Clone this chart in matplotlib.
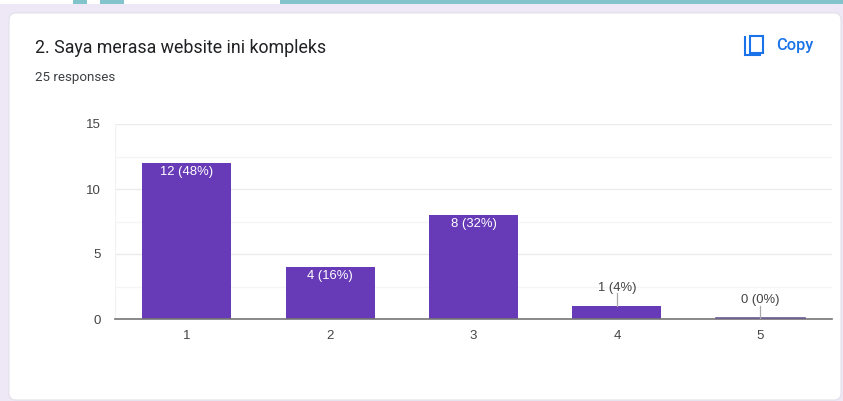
import matplotlib
matplotlib.use("Agg")
import matplotlib.pyplot as plt
from matplotlib.patches import FancyBboxPatch, Rectangle

categories = ["1", "2", "3", "4", "5"]
counts = [12, 4, 8, 1, 0]
labels = ["12 (48%)", "4 (16%)", "8 (32%)", "1 (4%)", "0 (0%)"]
y_ticks = [0, 5, 10, 15]
y_minor = [2.5, 7.5, 12.5]
title = "2. Saya merasa website ini kompleks"
subtitle = "25 responses"

W, H = 843, 401
fig = plt.figure(figsize=(W / 100, H / 100), dpi=100, facecolor="#ede7f6")

# page background, pixel coordinates
bg = fig.add_axes([0, 0, 1, 1])
bg.set_xlim(0, W)
bg.set_ylim(H, 0)
bg.axis("off")
bg.add_patch(Rectangle((0, 0), W, 4, fc="white", ec="none"))
bg.add_patch(Rectangle((280, 0), W - 280, 4, fc="#83c3cc", ec="none"))
bg.add_patch(Rectangle((73, 0), 14, 4, fc="#83c3cc", ec="none"))
bg.add_patch(Rectangle((100, 0), 24, 4, fc="#83c3cc", ec="none"))
bg.add_patch(FancyBboxPatch((9, 13), W - 11, H - 14, boxstyle="round,pad=0,rounding_size=7",
                            fc="white", ec="#e3e1e8", lw=0.8))
bg.text(35, 48, title, fontsize=12.8, family="Roboto", color="#202124", va="center")
bg.text(35, 78, subtitle, fontsize=9.6, family="Roboto", color="#3c4043", va="center")
bg.text(776, 45.5, "Copy", fontsize=11.8, family="Roboto", weight="medium", color="#1a73e8", va="center")
# copy icon
bg.add_patch(Rectangle((749.5, 35.5), 13, 17, fc="none", ec="#1a73e8", lw=1.5))
bg.plot([745, 745, 760], [37, 55, 55], color="#1a73e8", lw=1.5, solid_joinstyle="miter")

ax = fig.add_axes([115 / W, 1 - 319 / H, (832 - 115) / W, (319 - 124) / H])
ax.patch.set_alpha(0)
x = list(range(1, len(categories) + 1))
ax.set_xlim(0.5, 5.5)
ax.set_ylim(0, 15)

for s in ["top", "right", "left"]:
    ax.spines[s].set_visible(False)
ax.spines["bottom"].set_color("#757575")
ax.spines["bottom"].set_linewidth(1.2)
ax.spines["bottom"].set_zorder(5)

for v in y_ticks[1:]:
    ax.axhline(v, color="#ebebeb", lw=1, zorder=0)
for v in y_minor:
    ax.axhline(v, color="#f5f5f5", lw=1, zorder=0)
ax.plot([0.5, 0.5], [0, 15], color="#f3f3f3", lw=1, zorder=0)

ax.bar(x, counts, width=0.62, color="#673ab7", zorder=3)
ax.plot([4.5 + 0.19, 5.31], [0.04, 0.04], color="#6a5a94", lw=1.2, zorder=6)

ax.set_xticks(x)
ax.set_xticklabels(categories)
ax.set_yticks(y_ticks)
ax.tick_params(axis="both", length=0, labelsize=9.5, labelcolor="#444444", labelfontfamily="Liberation Sans")
ax.tick_params(axis="x", pad=8)
ax.tick_params(axis="y", pad=10)

for xi, c, lab in zip(x, counts, labels):
    if c >= 4:
        ax.annotate(lab, (xi, c), xytext=(0, -2.5), textcoords="offset points", ha="center", va="top",
                    fontsize=9.4, family="Liberation Sans", color="white", zorder=7)
    else:
        ax.annotate(lab, (xi, c), xytext=(0, 9), textcoords="offset points", ha="center", va="bottom",
                    fontsize=9.4, family="Liberation Sans", color="#444444", zorder=7)
        ax.plot([xi, xi], [c, c + 1.0], color="#a8a8a8", lw=0.9, zorder=7)

fig.savefig("out.png", dpi=100, facecolor=fig.get_facecolor())
